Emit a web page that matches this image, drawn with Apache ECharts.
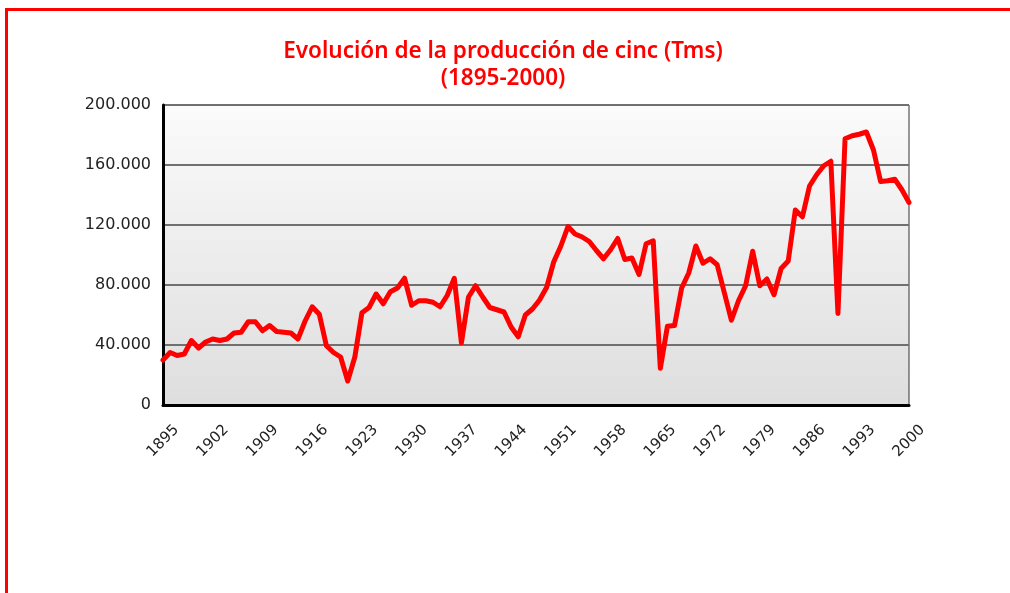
<!DOCTYPE html>
<html>
<head>
<meta charset="utf-8">
<script src="https://cdn.jsdelivr.net/npm/echarts@6/dist/echarts.min.js"></script>
<style>
html,body{margin:0;padding:0;background:#fff;}
#chart{width:1010px;height:593px;}
</style>
</head>
<body>
<div id="chart"></div>
<script>
const years = [];
for (let y = 1895; y <= 2000; y++) years.push(String(y));

const produccion = [
  30000, 35000, 33000, 34000, 43000, 38000, 42000, 44000, 43000, 44000,
  48000, 48500, 55500, 55500, 49500, 53000, 49000, 48500, 48000, 44000,
  56000, 65500, 60500, 39500, 35000, 32000, 16000, 32000, 61500, 65000,
  74000, 67500, 75500, 78000, 84500, 66500, 69500, 69500, 68500, 65500,
  73000, 84500, 41500, 72000, 79500, 72000, 65000, 63500, 62000, 52000,
  45500, 60000, 64000, 70000, 78500, 95500, 106000, 119000, 114000, 112000,
  109000, 103000, 97500, 103500, 111000, 97000, 98000, 87000, 107500, 109500,
  24500, 52500, 53000, 78000, 88000, 106000, 94500, 97500, 93500, 75000,
  56500, 69500, 79500, 102500, 79500, 84000, 73500, 91000, 96000, 130000,
  125500, 146000, 153500, 159500, 162500, 61000, 177500, 179500, 180500, 182000,
  170000, 149000, 149500, 150500, 143500, 135000
];

const yTicks = [0, 40000, 80000, 120000, 160000, 200000];

const chart = echarts.init(document.getElementById('chart'), null, {renderer: 'canvas'});
chart.setOption({
  animation: false,
  backgroundColor: '#ffffff',
  title: {
    text: 'Evolución de la producción de cinc (Tms)\n(1895-2000)',
    left: 498,
    textAlign: 'center',
    top: 33,
    textStyle: {
      color: '#ff0000',
      fontFamily: 'Noto Sans',
      fontWeight: 600,
      fontSize: 22.5,
      lineHeight: 27
    }
  },
  graphic: [
    {type: 'rect', shape: {x: 5, y: 8, width: 1010, height: 3}, style: {fill: '#ff0000'}},
    {type: 'rect', shape: {x: 5, y: 8, width: 3, height: 600}, style: {fill: '#ff0000'}}
  ],
  grid: {
    left: 163, right: 101, top: 105, bottom: 188,
    show: true,
    borderColor: '#333',
    borderWidth: 1,
    backgroundColor: {
      type: 'linear', x: 0, y: 0, x2: 0, y2: 1,
      colorStops: [{offset: 0, color: '#fbfbfb'}, {offset: 1, color: '#dedede'}]
    }
  },
  xAxis: {
    type: 'category',
    data: years,
    boundaryGap: false,
    axisLine: {show: true, lineStyle: {color: '#000', width: 3}},
    axisTick: {show: false},
    axisLabel: {
      interval: 6,
      rotate: 45,
      align: 'center',
      verticalAlign: 'middle',
      color: '#222',
      fontFamily: 'DejaVu Sans',
      fontSize: 15,
      margin: 36
    },
    splitLine: {show: false}
  },
  yAxis: {
    type: 'value',
    min: yTicks[0],
    max: yTicks[yTicks.length - 1],
    interval: 40000,
    axisLine: {show: true, lineStyle: {color: '#000', width: 3}},
    axisTick: {show: false},
    axisLabel: {
      color: '#222',
      fontFamily: 'DejaVu Sans',
      fontSize: 16,
      margin: 12,
      formatter: v => v === 0 ? '0' : v.toLocaleString('de-DE')
    },
    splitLine: {show: true, lineStyle: {color: '#707070', width: 2}}
  },
  series: [{
    type: 'line',
    data: produccion,
    showSymbol: false,
    symbol: 'none',
    lineStyle: {color: '#ff0000', width: 5, join: 'round', cap: 'round'},
    z: 5
  }]
});
</script>
</body>
</html>
